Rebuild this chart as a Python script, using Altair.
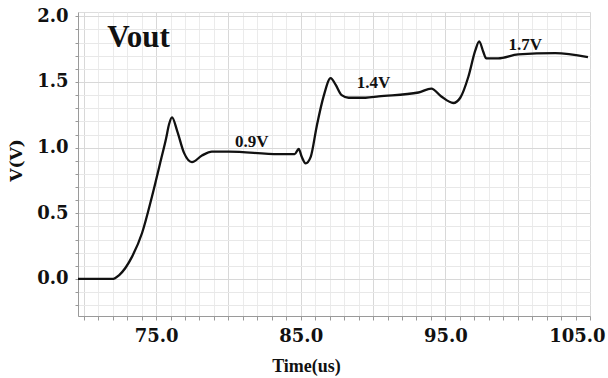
import altair as alt
import pandas as pd

# Vout waveform
time_us = [69.6, 71.96, 72.45, 73.34, 74.03, 74.72, 75.34, 75.69, 75.9, 76.1,
           76.45, 76.93, 77.48, 78.17, 78.86, 80.03, 83.48, 84.58, 84.86, 85.07,
           85.34, 85.69, 86.1, 86.58, 87.07, 87.41, 87.83, 88.31, 89.48, 90.38,
           93.14, 94.03, 94.72, 95.55, 96.03, 96.59, 97.07, 97.34, 97.62, 97.83,
           98.65, 100.03, 102.6, 104.86]
vout = [0.0, 0.0, 0.03, 0.17, 0.35, 0.63, 0.91, 1.07, 1.18, 1.23,
        1.13, 0.96, 0.89, 0.94, 0.97, 0.97, 0.95, 0.95, 0.99, 0.93,
        0.88, 0.93, 1.16, 1.39, 1.53, 1.48, 1.40, 1.38, 1.38, 1.39,
        1.42, 1.45, 1.39, 1.34, 1.38, 1.54, 1.74, 1.81, 1.73, 1.68,
        1.68, 1.71, 1.72, 1.69]

# level annotations
level_text = ["0.9V", "1.4V", "1.7V"]
level_t = [81.62, 90.03, 100.52]
level_v = [1.005, 1.455, 1.744]

title_text = ["Vout"]
title_t = [71.62]
title_v = [1.767]

x_ticks = list(range(70, 106))
y_ticks = [round(i * 0.1, 1) for i in range(-2, 21)]

df = pd.DataFrame({"t": time_us, "v": vout})
ann = pd.DataFrame({"label": level_text, "t": level_t, "v": level_v})
ttl = pd.DataFrame({"label": title_text, "t": title_t, "v": title_v})

xscale = alt.Scale(domain=[69.6, 105.0], nice=False, zero=False)
yscale = alt.Scale(domain=[-0.282, 2.033], nice=False, zero=False)

xaxis = alt.Axis(
    values=x_ticks, tickCount=100,
    labelExpr="datum.value % 10 == 5 ? format(datum.value, '.1f') : ''",
    labelFont="DejaVu Serif", labelFontWeight="bold", labelFontSize=18,
    labelColor="#111111",
    labelAlign=alt.condition("datum.value == 105", alt.value("right"), alt.value("center")),
    labelOffset=alt.condition("datum.value == 105", alt.value(15), alt.value(0)),
    labelPadding=7, labelFlush=False, labelOverlap=False,
    tickSize=4, tickColor="#9a9a9a", domainColor="#9a9a9a",
    grid=True,
    gridColor=alt.condition("datum.value % 5 == 0", alt.value("#d8d8d8"), alt.value("#ebebeb")),
    title="Time(us)", titleFont="Liberation Serif", titleFontWeight="bold",
    titleFontSize=18, titleColor="#111111",
    titleX=228, titleY=50, titleBaseline="middle", titleAlign="center",
)

yaxis = alt.Axis(
    values=y_ticks, tickCount=100,
    labelExpr="(datum.value >= 0 && abs(datum.value*2 - round(datum.value*2)) < 0.001) ? format(datum.value, '.1f') : ''",
    labelFont="DejaVu Serif", labelFontWeight="bold", labelFontSize=18,
    labelColor="#111111", labelPadding=7, labelOverlap=False, labelFlush=False,
    tickSize=3, tickColor="#9a9a9a", domainColor="#9a9a9a",
    grid=True,
    gridColor=alt.condition("abs(datum.value*2 - round(datum.value*2)) < 0.001",
                            alt.value("#d8d8d8"), alt.value("#e8e8e8")),
    title="V(V)", titleFont="DejaVu Serif", titleFontWeight="bold",
    titleFontSize=17, titleColor="#111111",
    titleX=-62, titleY=148, titleBaseline="middle", titleAlign="center",
)

line = alt.Chart(df).mark_line(color="#111111", strokeWidth=2.3, interpolate="monotone").encode(
    x=alt.X("t:Q", scale=xscale, axis=xaxis),
    y=alt.Y("v:Q", scale=yscale, axis=yaxis),
)

labels = alt.Chart(ann).mark_text(
    font="Liberation Serif", fontWeight="bold", fontSize=17, color="#111111",
    align="center", baseline="alphabetic",
).encode(x=alt.X("t:Q", scale=xscale), y=alt.Y("v:Q", scale=yscale), text="label:N")

vtitle = alt.Chart(ttl).mark_text(
    font="Liberation Serif", fontWeight="bold", fontSize=31, color="#111111",
    align="left", baseline="alphabetic",
).encode(x=alt.X("t:Q", scale=xscale), y=alt.Y("v:Q", scale=yscale), text="label:N")

chart = alt.layer(line, labels, vtitle).properties(
    width=512, height=304,
    autosize=alt.AutoSizeParams(type="none"),
    padding={"left": 78, "top": 12, "right": 18, "bottom": 62},
).configure_view(strokeWidth=0).configure(background="white")

chart.save("out.html", embed_options={"renderer": "svg", "actions": False})
